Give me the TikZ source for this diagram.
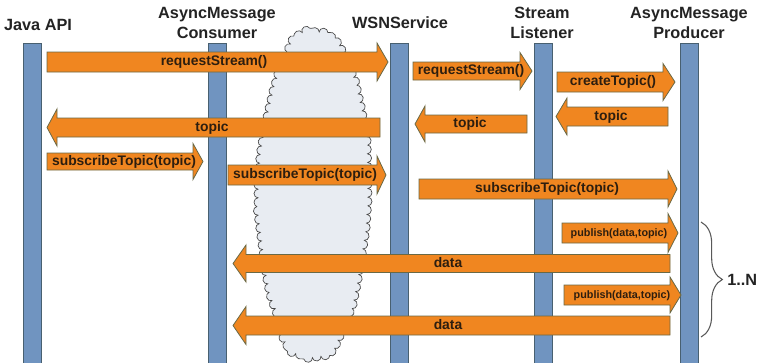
\documentclass[tikz,border=0pt]{standalone}
\usepackage{fontspec}
\setmainfont{Liberation Sans}
\usetikzlibrary{decorations.pathmorphing,decorations.pathreplacing}

\definecolor{msgfill}{RGB}{240,134,32}
\definecolor{msgline}{RGB}{105,105,70}
\definecolor{barfill}{RGB}{112,148,192}
\definecolor{barline}{RGB}{72,96,112}
\definecolor{cloudfill}{RGB}{232,236,242}
\definecolor{cloudline}{RGB}{70,70,70}
\definecolor{headtext}{RGB}{35,35,35}
\definecolor{msgtext}{RGB}{45,30,15}

% block arrow: tail x, head base x, tip x, centre y, body half height, head half height
\newcommand\msgarrow[6]{%
  \draw[msg] ({#1},{#4-#5}) -- ({#2},{#4-#5}) -- ({#2},{#4-#6}) -- ({#3},{#4})
    -- ({#2},{#4+#6}) -- ({#2},{#4+#5}) -- ({#1},{#4+#5}) -- cycle;}

\begin{document}
\begin{tikzpicture}[x=0.75pt,y=-0.75pt,
  head/.style={font=\bfseries\fontsize{12.2}{15}\selectfont, text=headtext, align=center, inner sep=0pt},
  bar/.style={draw=barline, fill=barfill, line width=0.5pt, minimum width=13.5pt, minimum height=240pt, anchor=north, inner sep=0pt},
  msg/.style={draw=msgline, fill=msgfill, line width=0.6pt},
  lbl/.style={font=\bfseries\fontsize{10.4}{12}\selectfont, text=msgtext, inner sep=0pt, text height=0.75em, text depth=0.2em},
  smalllbl/.style={lbl, font=\bfseries\fontsize{8.1}{10}\selectfont},
  cloud/.style={draw=cloudline, fill=cloudfill, line width=0.5pt,
    decorate, decoration={bumps, segment length=13pt, amplitude=3pt}}]
\useasboundingbox (0,0) rectangle (763,362);

% the network cloud behind the messages
\path[cloud] (287,52) -- (293,38) -- (305,31) -- (320,32) -- (335,38) -- (345,55)
  -- (355,80) -- (362,110) -- (367,140) -- (368,170) -- (368,200) -- (366,230)
  -- (362,255) -- (358,280) -- (353,305) -- (345,325) -- (337,343) -- (330,355)
  -- (310,358) -- (290,352) -- (283,338) -- (277,315) -- (270,295) -- (265,270)
  -- (262,245) -- (258,215) -- (258,185) -- (260,155) -- (265,125) -- (272,95)
  -- (279,70) -- cycle;

% participants
\node[head] (java) at (38,25) {Java API};
\node[head] (cons) at (217,23) {AsyncMessage\\Consumer};
\node[head] (wsn) at (400,23) {WSNService};
\node[head] (listen) at (542,23) {Stream\\Listener};
\node[head] (prod) at (689,23) {AsyncMessage\\Producer};

% lifelines
\node[bar] (javaBar) at (32,43) {};
\node[bar] (consBar) at (217,43) {};
\node[bar] (wsnBar) at (399,43) {};
\node[bar] (listenBar) at (543.5,43) {};
\node[bar] (prodBar) at (689.5,43) {};

% messages
\msgarrow{47}{377}{388}{62}{10}{19}
\node[lbl] (m1) at (214,62) {requestStream()};
\msgarrow{380}{57}{47}{127.5}{9.5}{18.5}
\node[lbl] (m2) at (212,128) {topic};
\msgarrow{47}{193}{203}{161.5}{8.5}{18}
\node[lbl] (m3) at (124,162) {subscribeTopic(topic)};
\msgarrow{228}{377}{386}{175}{10}{19}
\node[lbl] (m4) at (305,175) {subscribeTopic(topic)};
\msgarrow{413}{520}{532}{71}{9}{18.5}
\node[lbl] (m5) at (471,71) {requestStream()};
\msgarrow{557}{663}{675}{82}{10}{18.5}
\node[lbl] (m6) at (613,82) {createTopic()};
\msgarrow{668}{567}{556}{116.5}{9.5}{18.5}
\node[lbl] (m7) at (611,117) {topic};
\msgarrow{527}{425}{415}{124}{9}{18}
\node[lbl] (m8) at (470,124) {topic};
\msgarrow{419}{668}{677}{189}{10}{18}
\node[lbl] (m9) at (547,189) {subscribeTopic(topic)};
\msgarrow{562}{668}{678}{233}{10}{19.5}
\node[smalllbl] (m10) at (619,233) {publish(data,topic)};
\msgarrow{670}{246}{233}{263.5}{9}{18.5}
\node[lbl] (m11) at (448,263.5) {data};
\msgarrow{564}{670}{681}{295}{10}{18}
\node[smalllbl] (m12) at (622,295) {publish(data,topic)};
\msgarrow{670}{246}{233}{325.5}{9.5}{19}
\node[lbl] (m13) at (448,325.5) {data};

% repetition brace
\coordinate (braceTop) at (701,222);
\coordinate (braceBot) at (701,337);
\draw[draw=black!65, line width=0.8pt, decorate, decoration={brace, amplitude=16pt}] (braceTop) -- (braceBot);
\node[head, anchor=west] (rep) at (727,279.5) {1..N};
\end{tikzpicture}
\end{document}
